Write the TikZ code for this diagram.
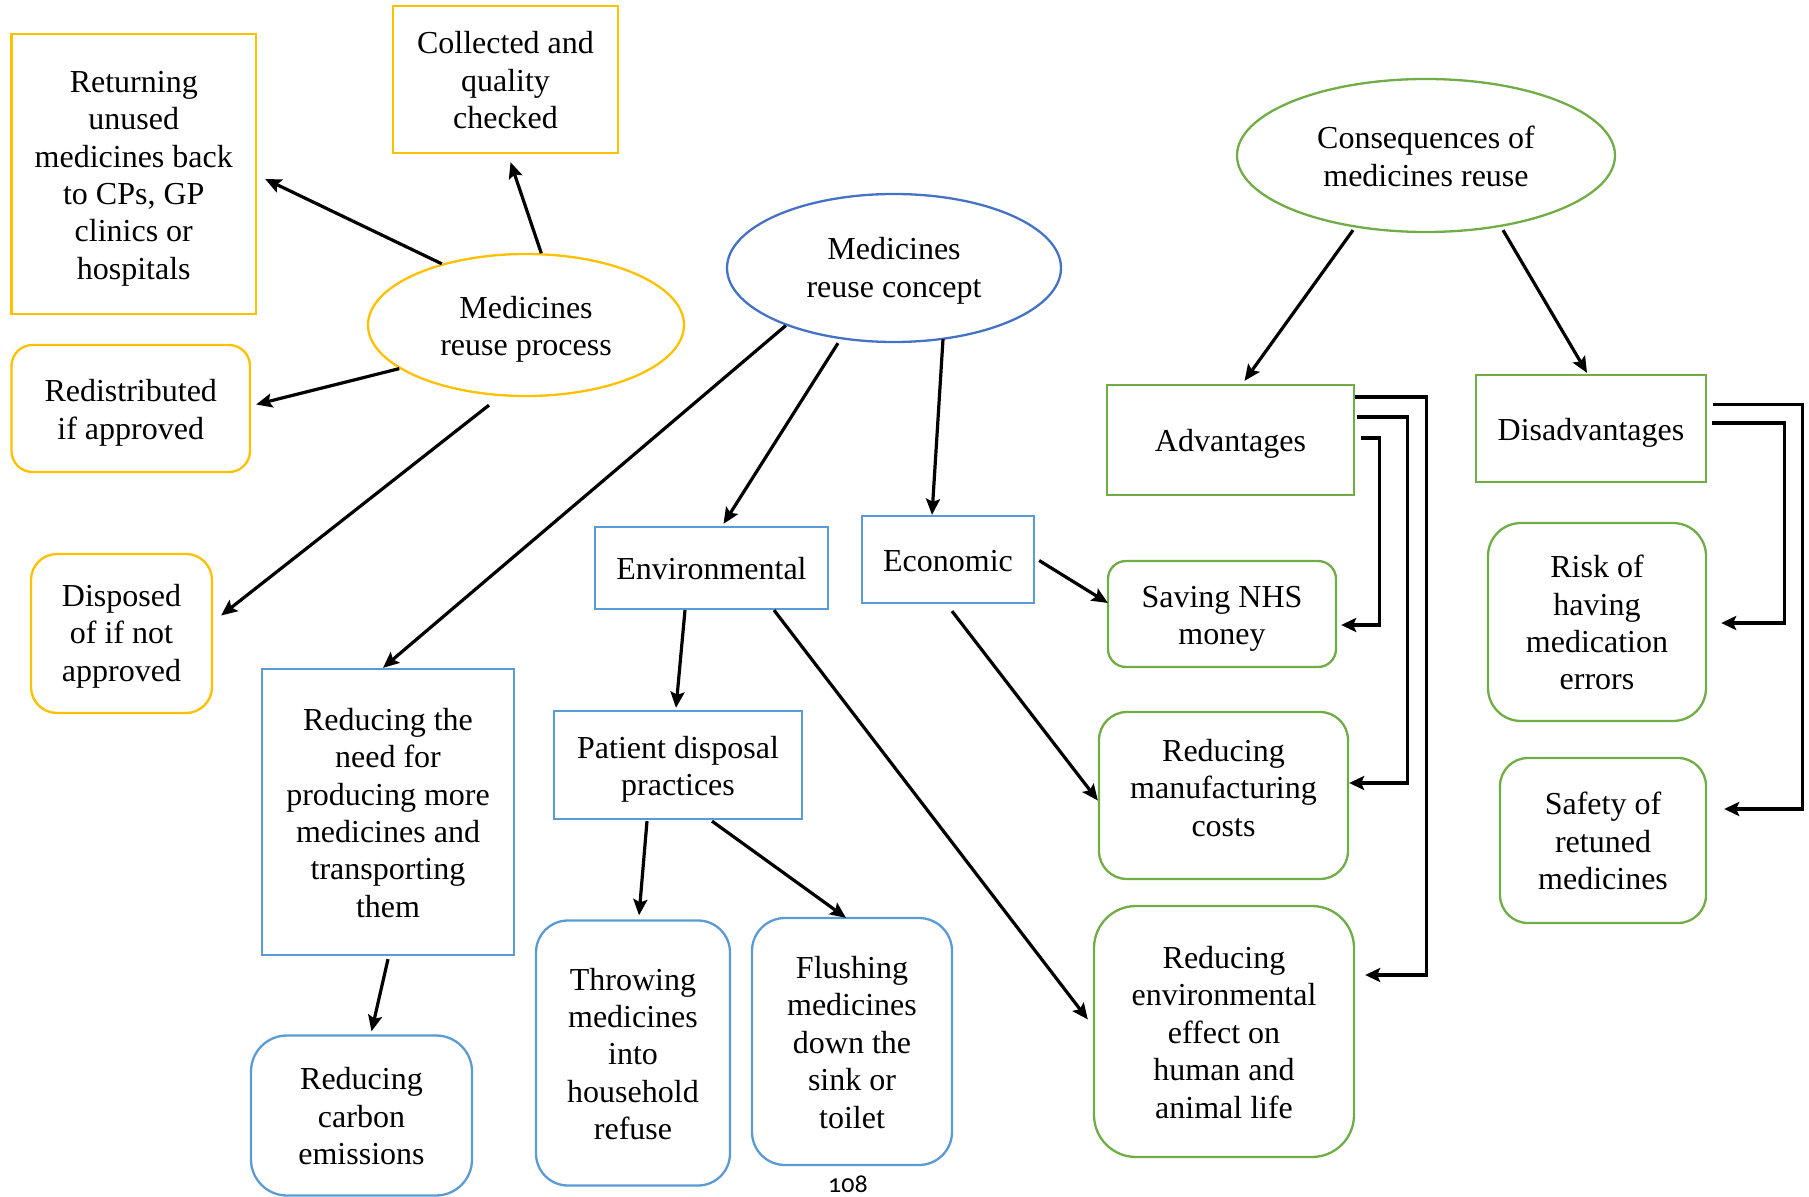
\documentclass[tikz,border=0pt]{standalone}
\usepackage{fontspec}
\setmainfont{Liberation Serif}
\newfontfamily\pagenumfont[Numbers=OldStyle]{Carlito}
\usetikzlibrary{shapes.geometric,arrows.meta,calc}
\definecolor{ygold}{HTML}{FFC000}
\definecolor{lblue}{HTML}{5B9BD5}
\definecolor{dblue}{HTML}{4472C4}
\definecolor{lgreen}{HTML}{70AD47}
% centred block of lines, lowered a little inside its frame
\newcommand\tx[2][2.2pt]{\raisebox{-#1}[\height][\depth]{\begin{tabular}{@{}c@{}}#2\end{tabular}}}

\begin{document}
\begin{tikzpicture}[x=0.5pt,y=-0.5pt,
  every node/.style={font=\fontsize{16}{18.7}\selectfont, align=center, inner sep=0pt},
  box/.style={draw, line width=1.15pt, rectangle},
  oval/.style={draw, line width=1.15pt, ellipse},
  arr/.style={line width=1.6pt, -{Stealth[length=8pt,width=7pt,inset=1.5pt]}},
  elb/.style={line width=1.6pt, -{Stealth[length=7.5pt,width=7pt,inset=1.5pt]}}
]
\useasboundingbox (0,0) rectangle (1809,1197);

% --- reuse process (yellow) ---
\node[box, draw=ygold, minimum width=122.25pt, minimum height=140pt] (ret) at (133.75,174)
  {\tx{Returning\\unused\\medicines back\\to CPs, GP\\clinics or\\hospitals}};
\node[box, draw=ygold, minimum width=112.5pt, minimum height=73.5pt] (col) at (505.5,79.5)
  {\tx{Collected and\\quality\\checked}};
\node[oval, draw=ygold, minimum width=158pt, minimum height=71pt] (proc) at (526,325)
  {\tx{Medicines\\reuse process}};
\node[box, draw=ygold, rounded corners=10.5pt, minimum width=119.25pt, minimum height=63.5pt] (red) at (130.75,408.5)
  {\tx{Redistributed\\if approved}};
\node[box, draw=ygold, rounded corners=13pt, minimum width=90.5pt, minimum height=79.5pt] (dis) at (121.5,633.5)
  {\tx[1.5pt]{Disposed\\of if not\\approved}};

% --- reuse concept (blue) ---
\node[oval, draw=dblue, minimum width=167pt, minimum height=74pt] (concept) at (894,268)
  {\tx[1.5pt]{Medicines\\reuse concept}};
\node[box, draw=lblue, minimum width=116.5pt, minimum height=41pt] (env) at (711.5,568)
  {\tx{Environmental}};
\node[box, draw=lblue, minimum width=86pt, minimum height=43.5pt] (eco) at (948,559.5)
  {\tx{Economic}};
\node[box, draw=lblue, minimum width=126pt, minimum height=143pt] (need) at (388,812)
  {\tx{Reducing the\\need for\\producing more\\medicines and\\transporting\\them}};
\node[box, draw=lblue, rounded corners=18pt, minimum width=110.5pt, minimum height=80pt] (carb) at (361.5,1115.5)
  {\tx{Reducing\\carbon\\emissions}};
\node[box, draw=lblue, minimum width=124pt, minimum height=54pt] (pat) at (678,765)
  {\tx{Patient disposal\\practices}};
\node[box, draw=lblue, rounded corners=16pt, minimum width=97pt, minimum height=132.5pt] (thr) at (633,1053)
  {\tx{Throwing\\medicines\\into\\household\\refuse}};
\node[box, draw=lblue, rounded corners=16.5pt, minimum width=100pt, minimum height=123.5pt] (flu) at (852,1041.5)
  {\tx{Flushing\\medicines\\down the\\sink or\\toilet}};

% --- consequences (green) ---
\node[oval, draw=lgreen, minimum width=189pt, minimum height=76.5pt] (cons) at (1426,155.5)
  {\tx{Consequences of\\medicines reuse}};
\node[box, draw=lgreen, minimum width=123.5pt, minimum height=55pt] (adv) at (1230.5,440)
  {\tx{Advantages}};
\node[box, draw=lgreen, minimum width=115pt, minimum height=53.5pt] (dsa) at (1591,428.5)
  {\tx{Disadvantages}};
\node[box, draw=lgreen, rounded corners=9pt, minimum width=114pt, minimum height=53pt] (sav) at (1222,614)
  {\tx{Saving NHS\\money}};
\node[box, draw=lgreen, rounded corners=14pt, minimum width=124.5pt, minimum height=83.5pt] (rman) at (1223.5,795.5)
  {\tx[-2pt]{Reducing\\manufacturing\\costs}};
\node[box, draw=lgreen, rounded corners=21pt, minimum width=130pt, minimum height=125.5pt] (renv) at (1224,1031.5)
  {\tx{Reducing\\environmental\\effect on\\human and\\animal life}};
\node[box, draw=lgreen, rounded corners=16.5pt, minimum width=109pt, minimum height=99pt] (risk) at (1597,622)
  {\tx{Risk of\\having\\medication\\errors}};
\node[box, draw=lgreen, rounded corners=14pt, minimum width=103pt, minimum height=82.5pt] (saf) at (1603,840.5)
  {\tx{Safety of\\retuned\\medicines}};

% page number
\node[anchor=base, font=\pagenumfont\fontsize{13}{14}\selectfont] (pg) at (848,1192) {108};

% --- connectors: reuse process ---
\draw[arr] (proc.144) -- ($(ret.east)+(8,5)$);
\draw[arr] (proc.78) -- ($(col.south)+(5,8)$);
\draw[arr] (proc.199) -- ($(red.east)+(5,-4)$);
\draw[arr] ($(proc.south)+(-37,8)$) -- ($(dis.east)+(8,-18)$);

% --- connectors: reuse concept ---
\draw[arr] (concept.208) -- ($(need.north)+(-5,0)$);
\draw[arr] ($(concept.south)+(-56,0)$) -- ($(env.north)+(12,-2)$);
\draw[arr] ($(concept.south)+(49,-4)$) -- ($(eco.north)+(-16,0)$);
\draw[arr] ($(env.south)+(-26.5,0)$) -- ($(pat.north)+(-2,-2)$);
\draw[arr] ($(env.south)+(62.5,0)$) -- ($(renv.west)+(-5,-12)$);
\draw[arr] ($(eco.east)+(4,1)$) -- ($(sav.west)+(1,-11)$);
\draw[arr] ($(eco.south)+(4,7)$) -- ($(rman.west)+(0,5)$);
\draw[arr] ($(need.south)+(0,3)$) -- ($(carb.north)+(10,-3)$);
\draw[arr] ($(pat.south)+(-31,1)$) -- ($(thr.north)+(6,-4)$);
\draw[arr] ($(pat.south)+(34,1)$) -- ($(flu.north)+(-6,1)$);

% --- connectors: consequences ---
\draw[arr] ($(cons.south)+(-73,-3)$) -- ($(adv.north)+(14,-3)$);
\draw[arr] ($(cons.south)+(77,-3)$) -- ($(dsa.north)+(-4,-1)$);

% elbow links from Advantages
\draw[elb] ($(adv.east)+(0,-43)$) -- ++(71,0) |- ($(renv.east)+(10,-56.5)$);
\draw[elb] ($(adv.east)+(2,-23)$) -- ++(50,0) |- ($(rman.east)+(0,-12.5)$);
\draw[elb] ($(adv.east)+(6,-2)$) -- ++(18,0) |- ($(sav.east)+(4,11)$);

% elbow links from Disadvantages
\draw[elb] ($(dsa.east)+(6,-24)$) -- ++(89,0) |- ($(saf.east)+(17,-31.5)$);
\draw[elb] ($(dsa.east)+(5,-5.5)$) -- ++(72,0) |- ($(risk.east)+(14,1)$);
\end{tikzpicture}
\end{document}
